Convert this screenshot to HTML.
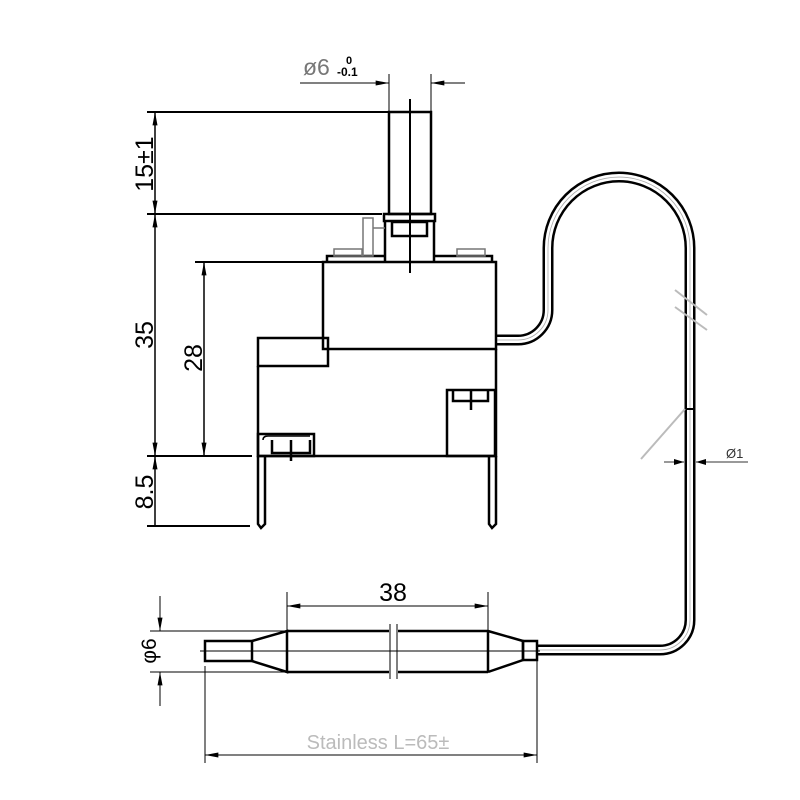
<!DOCTYPE html>
<html><head><style>html,body{margin:0;padding:0;background:#fff}svg{display:block}</style></head>
<body>
<svg width="800" height="800" viewBox="0 0 800 800" xmlns="http://www.w3.org/2000/svg" font-family="Liberation Sans, sans-serif">
<defs>
<marker id="a" viewBox="0 0 10 6" refX="10" refY="3" markerWidth="10" markerHeight="6" markerUnits="userSpaceOnUse" orient="auto-start-reverse"><path d="M0,0L10,3L0,6z" fill="#000"/></marker>
<marker id="b" viewBox="0 0 16 6" refX="16" refY="3" markerWidth="16" markerHeight="5" markerUnits="userSpaceOnUse" orient="auto-start-reverse"><path d="M0,0L16,3L0,6z" fill="#000"/></marker>
</defs>
<!-- capillary tube -->
<path d="M496,340 H518 A30,30 0 0 0 548,310 V248 A71,71 0 0 1 690,248 V620 A30,30 0 0 1 660,650 H537" fill="none" stroke="#000" stroke-width="11"/>
<path d="M496,340 H518 A30,30 0 0 0 548,310 V248 A71,71 0 0 1 690,248 V620 A30,30 0 0 1 660,650 H537" fill="none" stroke="#fff" stroke-width="6"/>
<path d="M496,340 H518 A30,30 0 0 0 548,310 V248 A71,71 0 0 1 690,248 V620 A30,30 0 0 1 660,650 H537" fill="none" stroke="#aaa" stroke-width="0.8"/>
<line x1="685" y1="409" x2="695" y2="409" stroke="#000" stroke-width="2"/>
<g stroke="#bbb" stroke-width="2"><line x1="675" y1="290" x2="707" y2="315"/><line x1="675" y1="307" x2="707" y2="330"/><line x1="685" y1="409" x2="641" y2="459"/></g>
<g stroke="#333" stroke-width="1"><line x1="664" y1="462" x2="684" y2="462" marker-end="url(#a)"/><line x1="748" y1="462" x2="696" y2="462" marker-end="url(#a)"/></g>
<text x="726" y="458" font-size="13" fill="#333">Ø1</text>

<!-- switch body -->
<g fill="none" stroke="#000" stroke-width="2.5">
<rect x="389" y="112" width="42" height="102"/>
<rect x="384" y="214" width="51" height="7"/>
<rect x="392" y="222" width="35" height="14"/>
<path d="M385,221 V262 M434,221 V262"/>
<path d="M327,262 V256 H385 M434,256 H492 V262"/>
<rect x="323" y="262" width="173" height="87"/>
<rect x="258" y="338" width="70" height="28"/>
<path d="M258,366 V456 H496 V349"/>
<rect x="258" y="434" width="56" height="22"/>
<path d="M272,440 V453 H310 V440 M291,440 V461"/>
<rect x="447" y="390" width="48" height="66"/>
<path d="M453,390 V401 H488 V390 M471,390 V410"/>
<path d="M258,456 V524 L261,528 L265,524 V456"/>
<path d="M489,456 V524 L492,528 L496,524 V456"/>
</g>
<g fill="none" stroke="#000" stroke-width="1.5">
<path d="M263,440 Q263,436 268,436 H310"/>
<rect x="334" y="249" width="28" height="7" stroke="#777"/>
<rect x="457" y="249" width="28" height="7" stroke="#777"/>
<rect x="363" y="218" width="10" height="38" stroke="#777"/>
<line x1="373" y1="228" x2="385" y2="228" stroke="#777"/>
</g>
<line x1="410" y1="99" x2="410" y2="273" stroke="#000" stroke-width="2"/>

<!-- left dims -->
<g stroke="#000" stroke-width="2">
<line x1="147" y1="112" x2="390" y2="112"/>
<line x1="147" y1="214" x2="382" y2="214"/>
<line x1="195" y1="262" x2="322" y2="262"/>
<line x1="147" y1="456" x2="252" y2="456"/>
<line x1="147" y1="526" x2="250" y2="526"/>
</g>
<g stroke="#000" stroke-width="1.5">
<line x1="155" y1="112" x2="155" y2="214" marker-start="url(#b)" marker-end="url(#b)"/>
<line x1="155" y1="214" x2="155" y2="456" marker-start="url(#b)" marker-end="url(#b)"/>
<line x1="155" y1="456" x2="155" y2="526" marker-start="url(#b)"/>
<line x1="204" y1="262" x2="204" y2="456" marker-start="url(#b)" marker-end="url(#b)"/>
</g>
<g font-size="25" fill="#000" text-anchor="middle">
<text transform="translate(153,164) rotate(-90)">15±1</text>
<text transform="translate(153,335) rotate(-90)">35</text>
<text transform="translate(202,358) rotate(-90)">28</text>
<text transform="translate(153,492) rotate(-90)">8.5</text>
</g>

<!-- top dim -->
<g stroke="#000" stroke-width="1">
<line x1="389" y1="74" x2="389" y2="112"/><line x1="431" y1="74" x2="431" y2="112"/>
<line x1="300" y1="83" x2="389" y2="83" marker-end="url(#b)"/>
<line x1="465" y1="83" x2="431" y2="83" marker-end="url(#b)"/>
</g>
<text x="303" y="75" font-size="23" fill="#777">ø6</text>
<text x="346" y="64" font-size="11" font-weight="bold">0</text>
<text x="337" y="76" font-size="12" font-weight="bold">-0.1</text>

<!-- probe -->
<g fill="none" stroke="#000" stroke-width="2.5">
<rect x="205" y="641" width="47" height="20"/>
<path d="M252,641 L287,631 V672 L252,661"/>
<path d="M287,631 H389 M287,672 H389 M398,631 H488 M398,672 H488"/>
<path d="M488,631 V672 M488,631 L523,641 V660 L488,672"/>
<rect x="523" y="641" width="14" height="19"/>
</g>
<g stroke="#000" stroke-width="1">
<line x1="390" y1="624" x2="390" y2="679"/><line x1="397" y1="624" x2="397" y2="679"/>
<line x1="200" y1="651" x2="540" y2="651"/>
<line x1="287" y1="592" x2="287" y2="631"/><line x1="488" y1="592" x2="488" y2="631"/>
<line x1="287" y1="606" x2="488" y2="606" marker-start="url(#b)" marker-end="url(#b)"/>
<line x1="150" y1="631" x2="287" y2="631"/><line x1="150" y1="672" x2="287" y2="672"/>
<line x1="160" y1="596" x2="160" y2="631" marker-end="url(#b)"/>
<line x1="160" y1="706" x2="160" y2="672" marker-end="url(#b)"/>
<line x1="205" y1="666" x2="205" y2="763"/><line x1="537" y1="650" x2="537" y2="763"/>
<line x1="205" y1="755" x2="537" y2="755" marker-start="url(#b)" marker-end="url(#b)"/>
</g>
<text x="393" y="601" font-size="25" text-anchor="middle">38</text>
<text transform="translate(156,651) rotate(-90)" font-size="21" text-anchor="middle">φ6</text>
<text x="378" y="749" font-size="20" fill="#bbb" text-anchor="middle">Stainless L=65±</text>
</svg>
</body></html>
